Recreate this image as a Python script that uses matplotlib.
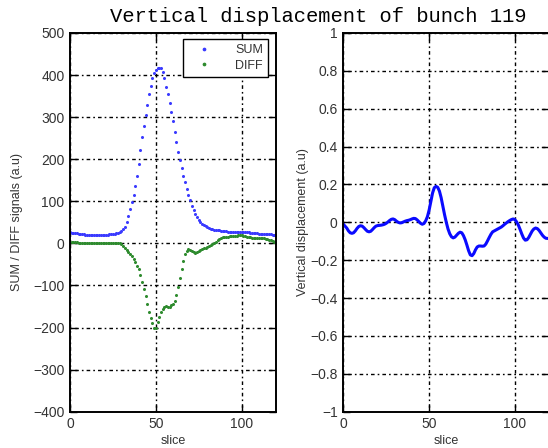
import matplotlib
matplotlib.use("Agg")
import matplotlib.pyplot as plt
from matplotlib.ticker import FuncFormatter

slices = list(range(0, 121))

sum_signal = [26, 25, 25, 24, 24, 23, 23, 22, 22, 21, 21, 21, 20, 20, 21, 21, 21, 20, 20, 20,
              21, 21, 21, 22, 22, 22, 23, 24, 25, 27, 30, 34, 40, 52, 66, 82, 98, 116, 136, 160,
              188, 222, 252, 280, 305, 330, 355, 375, 392, 404, 412, 417, 418, 416, 408, 392, 372, 354, 334, 312,
              290, 264, 240, 218, 198, 178, 160, 146, 130, 116, 102, 90, 80, 70, 62, 56, 51, 47, 44, 41,
              38, 36, 35, 34, 33, 32, 31, 31, 30, 30, 29, 29, 28, 28, 28, 27, 27, 27, 27, 26,
              27, 27, 26, 26, 26, 25, 25, 24, 24, 24, 23, 23, 23, 22, 22, 22, 22, 22, 21, 21, 21]

diff_signal = [4, 3, 3, 3, 3, 2, 2, 2, 2, 2, 1, 1, 1, 1, 1, 2, 2, 2, 2, 2,
               2, 2, 2, 2, 2, 2, 2, 2, 1, 0, -2, -6, -10, -15, -20, -25, -31, -37, -44, -53,
               -62, -74, -92, -108, -126, -144, -162, -178, -190, -200, -200, -188, -176, -164, -156, -151, -149, -150, -150, -147,
               -143, -136, -122, -103, -83, -62, -42, -26, -17, -14, -15, -18, -21, -22, -20, -18, -16, -14, -12, -10,
               -8, -6, -4, -2, 1, 4, 7, 10, 12, 14, 15, 16, 16, 17, 17, 18, 18, 18, 19, 19,
               19, 18, 17, 16, 15, 14, 13, 13, 13, 13, 13, 13, 12, 12, 11, 10, 9, 7, 5, 3, 1]

displacement = [-0.01, -0.02, -0.03, -0.045, -0.055, -0.058, -0.055, -0.045, -0.032, -0.022,
                -0.018, -0.02, -0.028, -0.038, -0.047, -0.05, -0.047, -0.038, -0.028, -0.02,
                -0.017, -0.016, -0.015, -0.013, -0.01, -0.005, 0.002, 0.01, 0.016, 0.018,
                0.014, 0.006, 0.0, -0.003, -0.002, 0.002, 0.006, 0.009, 0.011, 0.014,
                0.018, 0.021, 0.02, 0.013, 0.004, -0.005, -0.01, -0.006, 0.008, 0.03,
                0.065, 0.11, 0.155, 0.183, 0.19, 0.185, 0.165, 0.13, 0.085, 0.04,
                0.0, -0.035, -0.06, -0.076, -0.082, -0.078, -0.068, -0.058, -0.052, -0.055,
                -0.07, -0.092, -0.12, -0.15, -0.172, -0.176, -0.165, -0.145, -0.13, -0.125,
                -0.125, -0.126, -0.125, -0.115, -0.098, -0.08, -0.063, -0.05, -0.045, -0.04,
                -0.035, -0.03, -0.025, -0.018, -0.01, -0.003, 0.004, 0.01, 0.015, 0.018,
                0.014, 0.002, -0.015, -0.038, -0.062, -0.083, -0.094, -0.092, -0.08, -0.063,
                -0.046, -0.035, -0.03, -0.033, -0.042, -0.055, -0.068, -0.078, -0.084, -0.085, -0.085]

left_yticks = [-400, -300, -200, -100, 0, 100, 200, 300, 400, 500]
right_yticks = [-1, -0.8, -0.6, -0.4, -0.2, 0, 0.2, 0.4, 0.6, 0.8, 1]
xticks = [0, 50, 100]

title_text = "Vertical displacement of bunch 119"

plt.rcParams['font.family'] = ['Liberation Sans', 'DejaVu Sans']
plt.rcParams['axes.unicode_minus'] = True

W, H = 548, 448
fig = plt.figure(figsize=(W / 100, H / 100), dpi=100)

def px_rect(x0, y0, x1, y1):
    return [x0 / W, 1 - y1 / H, (x1 - x0) / W, (y1 - y0) / H]

ax1 = fig.add_axes(px_rect(70, 33, 276, 411.7))
ax2 = fig.add_axes(px_rect(343.3, 33, 549.3, 411.7))

txt_color = '#333333'
grid_style = (0, (1.2, 2.2, 2.6, 2.2))

def minus_fmt(v, pos):
    s = '%g' % v
    return s.replace('-', '\u2212')

for ax in (ax1, ax2):
    ax.set_xlim(0, 120)
    ax.set_xticks(xticks)
    ax.tick_params(direction='in', top=True, right=True, length=5, width=1,
                   labelsize=10, labelcolor=txt_color, pad=4)
    ax.grid(True, color='black', linestyle=grid_style, linewidth=1.0)
    for sp in ax.spines.values():
        sp.set_linewidth(1.4)
        sp.set_color('black')
    ax.yaxis.set_major_formatter(FuncFormatter(minus_fmt))
    ax.set_xlabel('slice', fontsize=9, color=txt_color, labelpad=3)

ax1.plot(slices, sum_signal, linestyle='none', marker='.', markersize=2.4,
         color='#3a3aff', label='SUM')
ax1.plot(slices, diff_signal, linestyle='none', marker='.', markersize=2.4,
         color='#2e8b2e', label='DIFF')
ax1.set_ylim(-400, 500)
ax1.set_yticks(left_yticks)
ax1.set_ylabel('SUM / DIFF signals (a.u)', fontsize=9, color=txt_color, labelpad=7)

leg = ax1.legend(loc='upper right', bbox_to_anchor=((268 - 70) / 206, 1 - 6 / 378.7),
                 borderaxespad=0, fontsize=9, numpoints=1, markerscale=1.4,
                 frameon=True, fancybox=False, edgecolor='black', framealpha=1,
                 handlelength=2.6, handletextpad=1.2, borderpad=0.4, labelspacing=0.3)
leg.get_frame().set_linewidth(1.0)
for t in leg.get_texts():
    t.set_color(txt_color)

ax2.plot(slices, displacement, color='#0a0aff', linewidth=2.2)
ax2.set_ylim(-1, 1)
ax2.set_yticks(right_yticks)
ax2.set_ylabel('Vertical displacement (a.u)', fontsize=9, color=txt_color, labelpad=1)

fig.text(318 / W, 1 - 17 / H, title_text, family=['Liberation Mono', 'DejaVu Sans Mono'],
         fontsize=14.8, fontweight='normal', ha='center', va='center', color='black')

fig.savefig('out.png', dpi=100)
